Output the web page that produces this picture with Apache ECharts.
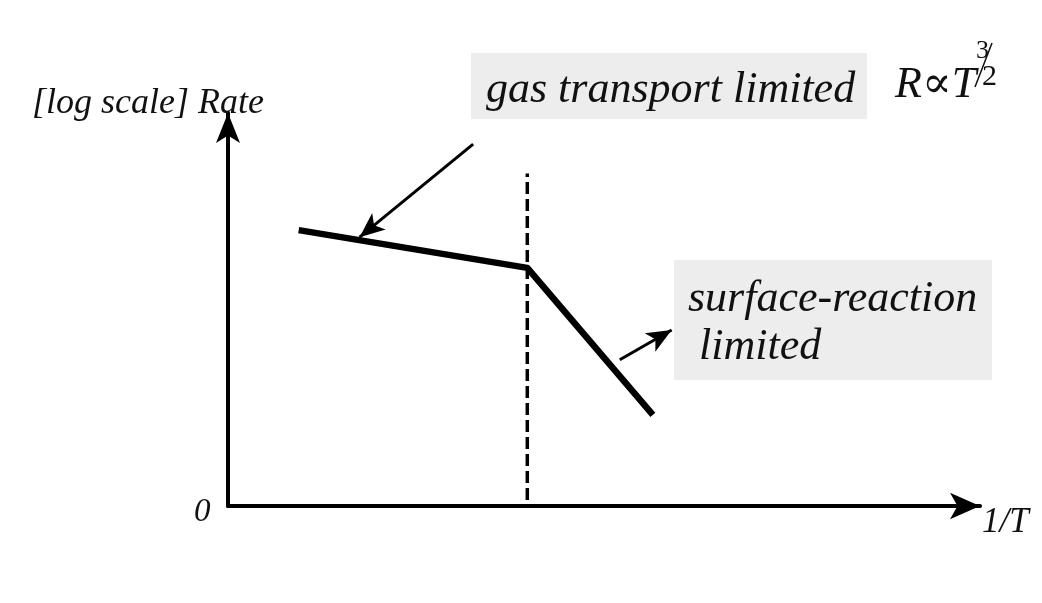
<!DOCTYPE html>
<html>
<head>
<meta charset="utf-8">
<script src="https://cdn.jsdelivr.net/npm/echarts@6/dist/echarts.min.js"></script>
<style>
html,body{margin:0;padding:0;background:#fff;}
#chart{width:1042px;height:603px;}
</style>
</head>
<body>
<div id="chart"></div>
<script>
// Schematic data (axis units 0..100 on both axes)
const ratePoints = [[9.4, 70.2], [39.8, 60.6], [56.5, 23.2]];
const transitionX = [39.8, 39.8];
const transitionY = [1.5, 84.6];
const arrowGas = [[32.6, 92.1], [17.5, 68.4]];
const arrowSurface = [[52.1, 37.2], [59.0, 44.8]];
const xLabel = '1/T';
const yLabel = '[log scale] Rate';
const originLabel = '0';
const gasLabel = 'gas transport limited';
const surfaceLabel = 'surface-reaction\n limited';

const serif = '"Liberation Serif", "DejaVu Serif", serif';
const chart = echarts.init(document.getElementById('chart'));

chart.setOption({
  backgroundColor: '#ffffff',
  animation: false,
  grid: { left: 228, right: 62, top: 113, bottom: 97 },
  xAxis: {
    type: 'value', min: 0, max: 100,
    axisLine: { show: true, symbol: ['none', 'arrow'], symbolSize: [20, 30], symbolOffset: [0, 0],
      lineStyle: { color: '#000', width: 4 } },
    axisTick: { show: false }, axisLabel: { show: false }, splitLine: { show: false }
  },
  yAxis: {
    type: 'value', min: 0, max: 100,
    axisLine: { show: true, symbol: ['none', 'arrow'], symbolSize: [18, 30], symbolOffset: [0, 0],
      lineStyle: { color: '#000', width: 4 } },
    axisTick: { show: false }, axisLabel: { show: false }, splitLine: { show: false }
  },
  graphic: [
    { type: 'rect', shape: { x: 471, y: 53, width: 396, height: 66 }, style: { fill: '#ededee' }, z: 1 },
    { type: 'rect', shape: { x: 674, y: 260, width: 318, height: 120 }, style: { fill: '#ededee' }, z: 1 },
    { type: 'text', x: 486, y: 68, z: 5, style: { text: gasLabel, font: 'italic 44px ' + serif, fill: '#111', verticalAlign: 'top' } },
    { type: 'text', x: 688, y: 275, z: 5, style: { text: surfaceLabel, font: 'italic 44px ' + serif, fill: '#111', lineHeight: 48, verticalAlign: 'top' } },
    { type: 'text', x: 32, y: 86, z: 5, style: { text: yLabel, font: 'italic 36px ' + serif, fill: '#111', verticalAlign: 'top' } },
    { type: 'text', x: 194, y: 496, z: 5, style: { text: originLabel, font: 'italic 33px ' + serif, fill: '#111', verticalAlign: 'top' } },
    { type: 'text', x: 982, y: 505, z: 5, style: { text: xLabel, font: 'italic 35px ' + serif, fill: '#111', verticalAlign: 'top' } },
    { type: 'text', x: 895, y: 63, z: 5, style: { text: 'R∝T', font: 'italic 44px ' + serif, fill: '#111', verticalAlign: 'top' } },
    { type: 'text', x: 976, y: 38, z: 5, style: { text: '3', font: '26px ' + serif, fill: '#111', verticalAlign: 'top' } },
    { type: 'line', z: 5, shape: { x1: 992, y1: 43, x2: 975, y2: 87 }, style: { stroke: '#111', lineWidth: 1.5 } },
    { type: 'text', x: 982, y: 62, z: 5, style: { text: '2', font: '30px ' + serif, fill: '#111', verticalAlign: 'top' } }
  ],
  series: [
    {
      type: 'line', data: ratePoints, symbol: 'none', z: 3,
      lineStyle: { color: '#000', width: 6.5, join: 'round', cap: 'butt' }
    },
    {
      type: 'line', data: [[transitionX[0], transitionY[0]], [transitionX[1], transitionY[1]]], symbol: 'none', z: 2,
      lineStyle: { color: '#000', width: 3.5, type: [12, 5] }
    },
    {
      type: 'line', data: [], symbol: 'none',
      markLine: {
        silent: true, symbol: ['none', 'arrow'], symbolSize: [16, 25],
        label: { show: false },
        lineStyle: { color: '#000', width: 3, type: 'solid' },
        data: [
          [{ coord: arrowGas[0] }, { coord: arrowGas[1] }],
          [{ coord: arrowSurface[0] }, { coord: arrowSurface[1] }]
        ]
      }
    }
  ]
});
</script>
</body>
</html>
